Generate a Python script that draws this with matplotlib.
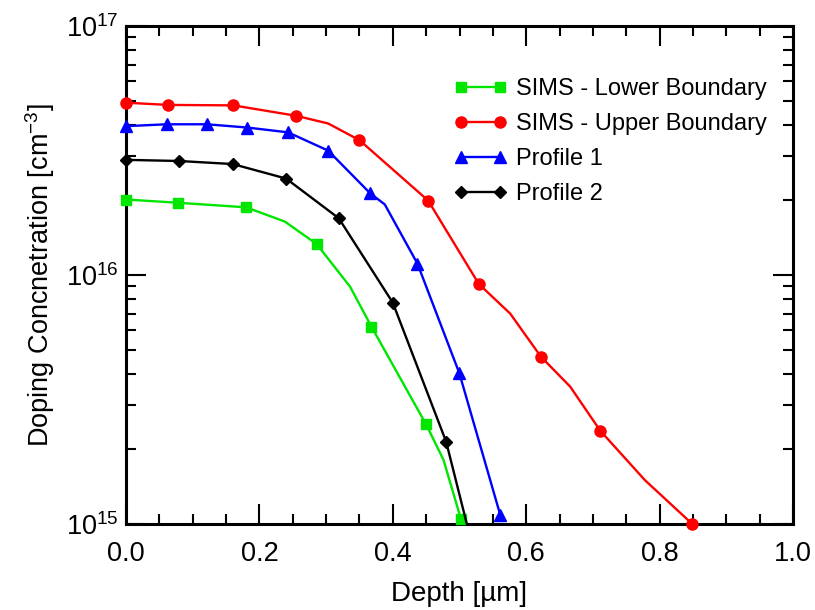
import matplotlib
matplotlib.use("Agg")
import matplotlib.pyplot as plt
from matplotlib.ticker import LogLocator, MultipleLocator, FixedLocator, FixedFormatter

plt.rcParams['font.family'] = ['Liberation Sans', 'DejaVu Sans']
plt.rcParams['mathtext.fontset'] = 'custom'
plt.rcParams['mathtext.rm'] = 'Liberation Sans'
plt.rcParams['mathtext.it'] = 'Liberation Sans:italic'
plt.rcParams['mathtext.bf'] = 'Liberation Sans:bold'

# ---- data ----
lower_x = [0.0, 0.0785, 0.18, 0.238, 0.286, 0.336, 0.368, 0.45, 0.476, 0.502]
lower_y = [2.01e16, 1.95e16, 1.87e16, 1.64e16, 1.33e16, 8.97e15, 6.2e15, 2.51e15, 1.81e15, 1.05e15]
lower_mk = [0, 1, 2, 4, 6, 7, 9]

upper_x = [0.0, 0.0635, 0.161, 0.255, 0.303, 0.35, 0.453, 0.529, 0.576, 0.622, 0.666, 0.711, 0.778, 0.849]
upper_y = [4.92e16, 4.82e16, 4.8e16, 4.36e16, 4.06e16, 3.48e16, 1.99e16, 9.2e15, 7.0e15, 4.7e15, 3.56e15, 2.37e15, 1.5e15, 1.0e15]
upper_mk = [0, 1, 2, 3, 5, 6, 7, 9, 11, 13]

prof1_x = [0.0, 0.061, 0.121, 0.182, 0.243, 0.303, 0.366, 0.388, 0.437, 0.4998, 0.561]
prof1_y = [3.96e16, 4.03e16, 4.03e16, 3.91e16, 3.74e16, 3.16e16, 2.13e16, 1.92e16, 1.11e16, 4.03e15, 1.09e15]
prof1_mk = [0, 1, 2, 3, 4, 5, 6, 8, 9, 10]

prof2_x = [0.0, 0.0795, 0.16, 0.24, 0.319, 0.40, 0.48, 0.511]
prof2_y = [2.9e16, 2.87e16, 2.79e16, 2.44e16, 1.69e16, 7.74e15, 2.14e15, 1.0e15]
prof2_mk = [0, 1, 2, 3, 4, 5, 6]

labels = ["SIMS - Lower Boundary", "SIMS - Upper Boundary", "Profile 1", "Profile 2"]
x_ticks = [0.0, 0.2, 0.4, 0.6, 0.8, 1.0]
x_ticklabels = ["0.0", "0.2", "0.4", "0.6", "0.8", "1.0"]
y_ticks = [1e15, 1e16, 1e17]
y_ticklabels = [r"10$^{15}$", r"10$^{16}$", r"10$^{17}$"]

fig = plt.figure(figsize=(8.15, 6.10), dpi=100)
ax = fig.add_axes([126/815, 1-524/610, (793-126)/815, (524-26)/610])

lw = 1.7
ax.plot(lower_x, lower_y, color='#00e600', lw=lw, marker='s', ms=6.5, markevery=lower_mk,
        label=labels[0], clip_on=False, zorder=3)
ax.plot(upper_x, upper_y, color='#ff0000', lw=lw, marker='o', ms=8, markevery=upper_mk,
        label=labels[1], clip_on=False, zorder=3)
ax.plot(prof1_x, prof1_y, color='#0000ff', lw=lw, marker='^', ms=8, markevery=prof1_mk,
        label=labels[2], clip_on=False, zorder=3)
ax.plot(prof2_x, prof2_y, color='#000000', lw=lw, marker='D', ms=6, markevery=prof2_mk,
        label=labels[3], clip_on=False, zorder=3)

ax.set_yscale('log')
ax.set_xlim(0.0, 1.0)
ax.set_ylim(1e15, 1e17)

ax.xaxis.set_major_locator(FixedLocator(x_ticks))
ax.xaxis.set_major_formatter(FixedFormatter(x_ticklabels))
ax.xaxis.set_minor_locator(MultipleLocator(0.05))
ax.yaxis.set_major_locator(FixedLocator(y_ticks))
ax.yaxis.set_major_formatter(FixedFormatter(y_ticklabels))
ax.yaxis.set_minor_locator(LogLocator(base=10, subs=range(2, 10)))
ax.yaxis.set_minor_formatter(FixedFormatter([]))

ax.tick_params(which='both', direction='in', top=True, right=True, width=1.5, colors='black')
ax.tick_params(which='major', length=14.5)
ax.tick_params(which='minor', length=7.2)
ax.tick_params(axis='x', which='major', labelsize=19.5, pad=12)
ax.tick_params(axis='y', which='major', labelsize=19.5, pad=5)
for s in ax.spines.values():
    s.set_linewidth(2.2)

ax.set_xlabel("Depth [µm]", fontsize=20, labelpad=10)
ax.set_ylabel(r"Doping Concnetration [cm$^{-3}$]", fontsize=19.5, labelpad=7)

leg = ax.legend(loc='upper right', bbox_to_anchor=(0.9925, 0.938), frameon=False, fontsize=17,
                numpoints=2, handlelength=2.25, handletextpad=0.38, labelspacing=0.55)

fig.savefig("out.png", dpi=100)
